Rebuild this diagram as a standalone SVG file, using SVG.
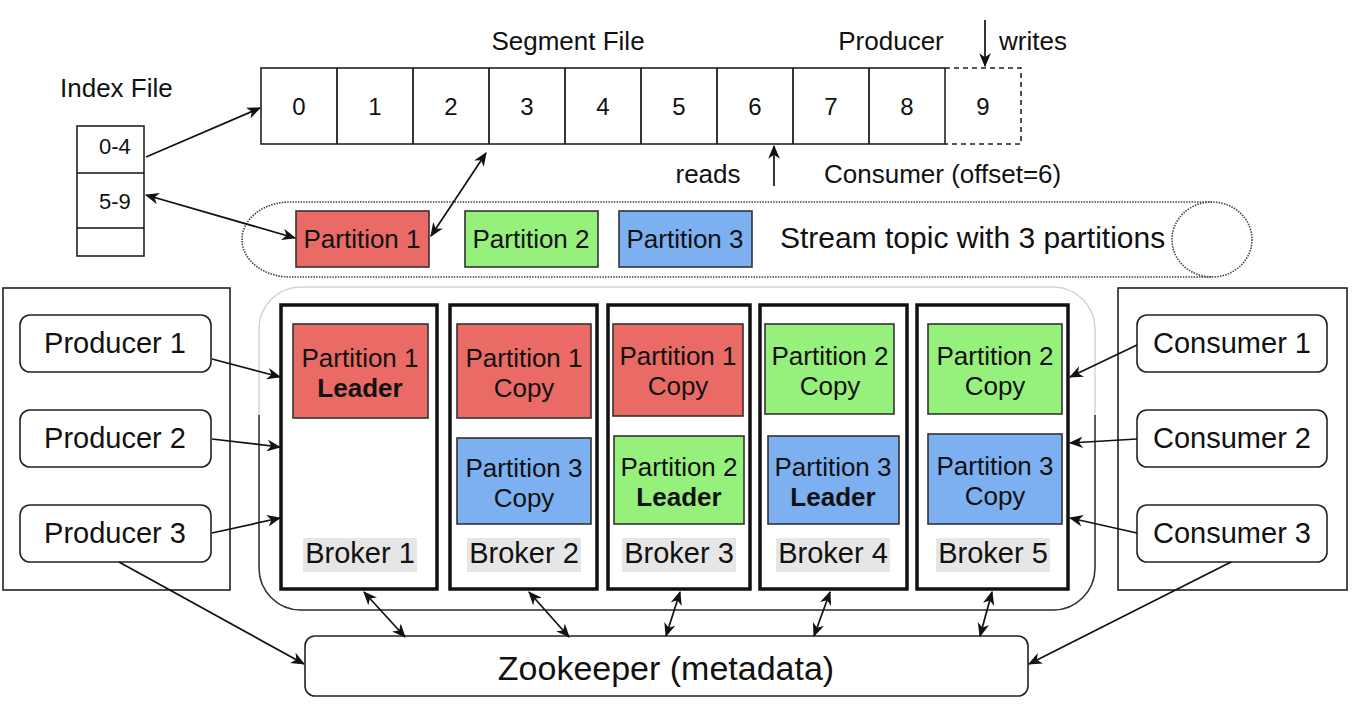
<svg xmlns="http://www.w3.org/2000/svg" width="1372" height="707" viewBox="0 0 1372 707">
<defs>
<marker id="arr" viewBox="0 0 12 10" refX="11" refY="5" markerWidth="14" markerHeight="12" markerUnits="userSpaceOnUse" orient="auto-start-reverse">
<path d="M0,0 L12,5 L0,10 L3.5,5 z" fill="#111"/>
</marker>
<style>
text{font-family:"Liberation Sans",Arial,sans-serif;fill:#111}
.t26{font-size:26px}
.t29{font-size:29px}
.t24{font-size:24px}
.mid{text-anchor:middle}
.b{font-weight:bold}
.box{fill:#fff;stroke:#222;stroke-width:1.6}
.rbox{fill:#fff;stroke:#222;stroke-width:1.6}
.broker{fill:#fff;stroke:#111;stroke-width:3.5}
.red{fill:#EA6B66;stroke:#333;stroke-width:1.6}
.green{fill:#96F07C;stroke:#333;stroke-width:1.6}
.blue{fill:#7CB0F0;stroke:#333;stroke-width:1.6}
.lbl{fill:#e6e6e6}
.conn{fill:none;stroke:#111;stroke-width:1.7}
.one{marker-end:url(#arr)}
.two{marker-start:url(#arr);marker-end:url(#arr)}
</style>
</defs>
<rect width="1372" height="707" fill="#fff"/>

<g id="index-file">
<text class="t26" x="60" y="97">Index File</text>
<rect class="box" x="77" y="126" width="67" height="130"/>
<line class="conn" x1="77" y1="173" x2="144" y2="173"/>
<line class="conn" x1="77" y1="228" x2="144" y2="228"/>
<text x="99" y="154" style="font-size:22px">0-4</text>
<text x="99" y="209" style="font-size:22px">5-9</text>
</g>

<g id="segment-file">
<text class="t26 mid" x="568" y="50">Segment File</text>
<rect class="box" x="261" y="68" width="684" height="76"/>
<g class="conn">
<line x1="337" y1="68" x2="337" y2="144"/>
<line x1="413" y1="68" x2="413" y2="144"/>
<line x1="489" y1="68" x2="489" y2="144"/>
<line x1="565" y1="68" x2="565" y2="144"/>
<line x1="641" y1="68" x2="641" y2="144"/>
<line x1="717" y1="68" x2="717" y2="144"/>
<line x1="793" y1="68" x2="793" y2="144"/>
<line x1="869" y1="68" x2="869" y2="144"/>
</g>
<path d="M945 68 L1021 68 L1021 144 L945 144" fill="none" stroke="#222" stroke-width="1.6" stroke-dasharray="5 4"/>
<g class="t24 mid">
<text x="299" y="115">0</text>
<text x="375" y="115">1</text>
<text x="451" y="115">2</text>
<text x="527" y="115">3</text>
<text x="603" y="115">4</text>
<text x="679" y="115">5</text>
<text x="755" y="115">6</text>
<text x="831" y="115">7</text>
<text x="907" y="115">8</text>
<text x="983" y="115">9</text>
</g>
<text class="t26 mid" x="891" y="50">Producer</text>
<text class="t26" x="999" y="50">writes</text>
<text class="t26 mid" x="708" y="183">reads</text>
<text class="t26" x="824" y="183">Consumer (offset=6)</text>
</g>

<g id="stream-topic">
<path d="M1212 202 L290 202 A48 37.5 0 0 0 290 277 L1212 277" fill="none" stroke="#444" stroke-width="1.6" stroke-dasharray="1.5 1.2"/>
<ellipse cx="1212" cy="239.5" rx="40" ry="37.5" fill="none" stroke="#444" stroke-width="1.6" stroke-dasharray="1.5 1.2"/>
<rect class="red" x="296" y="211" width="133" height="56"/>
<text class="t26 mid" x="362" y="248">Partition 1</text>
<rect class="green" x="465" y="211" width="133" height="56"/>
<text class="t26 mid" x="531" y="248">Partition 2</text>
<rect class="blue" x="619" y="211" width="133" height="56"/>
<text class="t26 mid" x="685" y="248">Partition 3</text>
<text x="780" y="248" style="font-size:30px">Stream topic with 3 partitions</text>
</g>

<g id="producers">
<rect class="box" x="3" y="288" width="227" height="302"/>
<rect class="rbox" x="20" y="315" width="191" height="57" rx="10"/>
<text class="t29 mid" x="115" y="353">Producer 1</text>
<rect class="rbox" x="20" y="410" width="191" height="57" rx="10"/>
<text class="t29 mid" x="115" y="448">Producer 2</text>
<rect class="rbox" x="20" y="505" width="191" height="57" rx="10"/>
<text class="t29 mid" x="115" y="543">Producer 3</text>
</g>

<g id="consumers">
<rect class="box" x="1118" y="288" width="229" height="302"/>
<rect class="rbox" x="1137" y="315" width="190" height="57" rx="10"/>
<text class="t29 mid" x="1232" y="353">Consumer 1</text>
<rect class="rbox" x="1137" y="410" width="190" height="57" rx="10"/>
<text class="t29 mid" x="1232" y="448">Consumer 2</text>
<rect class="rbox" x="1137" y="505" width="190" height="57" rx="10"/>
<text class="t29 mid" x="1232" y="543">Consumer 3</text>
</g>

<g id="broker-cluster">
<rect x="259" y="287" width="836" height="323" rx="42" fill="#fff" stroke="#d3d3d3" stroke-width="1.5"/>
<path d="M259 415 L259 568 A42 42 0 0 0 301 610 L1053 610 A42 42 0 0 0 1095 568 L1095 415" fill="none" stroke="#333" stroke-width="1.5"/>
</g>

<g id="broker-1">
<rect class="broker" x="281" y="305" width="156" height="284"/>
<rect class="red" x="293" y="324" width="135" height="94"/>
<text class="t26 mid" x="360" y="367">Partition 1</text>
<text class="t26 mid b" x="360" y="397">Leader</text>
<rect class="lbl" x="303" y="538" width="114" height="34"/>
<text class="t29 mid" x="360" y="563">Broker 1</text>
</g>

<g id="broker-2">
<rect class="broker" x="450" y="305" width="147" height="284"/>
<rect class="red" x="457" y="324" width="134" height="94"/>
<text class="t26 mid" x="524" y="367">Partition 1</text>
<text class="t26 mid" x="524" y="397">Copy</text>
<rect class="blue" x="457" y="438" width="134" height="86"/>
<text class="t26 mid" x="524" y="477">Partition 3</text>
<text class="t26 mid" x="524" y="507">Copy</text>
<rect class="lbl" x="467" y="538" width="114" height="34"/>
<text class="t29 mid" x="524" y="563">Broker 2</text>
</g>

<g id="broker-3">
<rect class="broker" x="608" y="305" width="142" height="284"/>
<rect class="red" x="613" y="324" width="130" height="92"/>
<text class="t26 mid" x="678" y="365">Partition 1</text>
<text class="t26 mid" x="678" y="395">Copy</text>
<rect class="green" x="614" y="436" width="130" height="88"/>
<text class="t26 mid" x="679" y="476">Partition 2</text>
<text class="t26 mid b" x="679" y="506">Leader</text>
<rect class="lbl" x="622" y="538" width="114" height="34"/>
<text class="t29 mid" x="679" y="563">Broker 3</text>
</g>

<g id="broker-4">
<rect class="broker" x="760" y="305" width="147" height="284"/>
<rect class="green" x="765" y="324" width="129" height="90"/>
<text class="t26 mid" x="830" y="365">Partition 2</text>
<text class="t26 mid" x="830" y="395">Copy</text>
<rect class="blue" x="768" y="436" width="131" height="88"/>
<text class="t26 mid" x="833" y="476">Partition 3</text>
<text class="t26 mid b" x="833" y="506">Leader</text>
<rect class="lbl" x="776" y="538" width="114" height="34"/>
<text class="t29 mid" x="833" y="563">Broker 4</text>
</g>

<g id="broker-5">
<rect class="broker" x="917" y="305" width="151" height="284"/>
<rect class="green" x="928" y="324" width="134" height="90"/>
<text class="t26 mid" x="995" y="365">Partition 2</text>
<text class="t26 mid" x="995" y="395">Copy</text>
<rect class="blue" x="928" y="434" width="134" height="90"/>
<text class="t26 mid" x="995" y="475">Partition 3</text>
<text class="t26 mid" x="995" y="505">Copy</text>
<rect class="lbl" x="936" y="538" width="114" height="34"/>
<text class="t29 mid" x="993" y="563">Broker 5</text>
</g>

<g id="zookeeper">
<rect class="rbox" x="305" y="636" width="723" height="60" rx="10"/>
<text class="mid" x="666" y="680" style="font-size:34px">Zookeeper (metadata)</text>
</g>

<g id="connectors">
<line class="conn one" x1="146" y1="157" x2="260" y2="108"/>
<line class="conn two" x1="146" y1="195" x2="295" y2="238"/>
<line class="conn two" x1="486" y1="153" x2="431" y2="236"/>
<line class="conn one" x1="985" y1="20" x2="985" y2="66"/>
<line class="conn one" x1="774" y1="186" x2="774" y2="146"/>
<line class="conn one" x1="212" y1="359" x2="280" y2="377"/>
<line class="conn one" x1="212" y1="439" x2="280" y2="447"/>
<line class="conn one" x1="212" y1="533" x2="280" y2="518"/>
<line class="conn one" x1="1137" y1="345" x2="1070" y2="377"/>
<line class="conn one" x1="1137" y1="439" x2="1070" y2="443"/>
<line class="conn one" x1="1137" y1="533" x2="1070" y2="518"/>
<line class="conn one" x1="119" y1="562" x2="304" y2="664"/>
<line class="conn one" x1="1231" y1="562" x2="1029" y2="664"/>
<line class="conn two" x1="364" y1="592" x2="405" y2="637"/>
<line class="conn two" x1="529" y1="592" x2="569" y2="637"/>
<line class="conn two" x1="680" y1="592" x2="666" y2="636"/>
<line class="conn two" x1="830" y1="592" x2="814" y2="636"/>
<line class="conn two" x1="992" y1="592" x2="980" y2="636"/>
</g>
</svg>
